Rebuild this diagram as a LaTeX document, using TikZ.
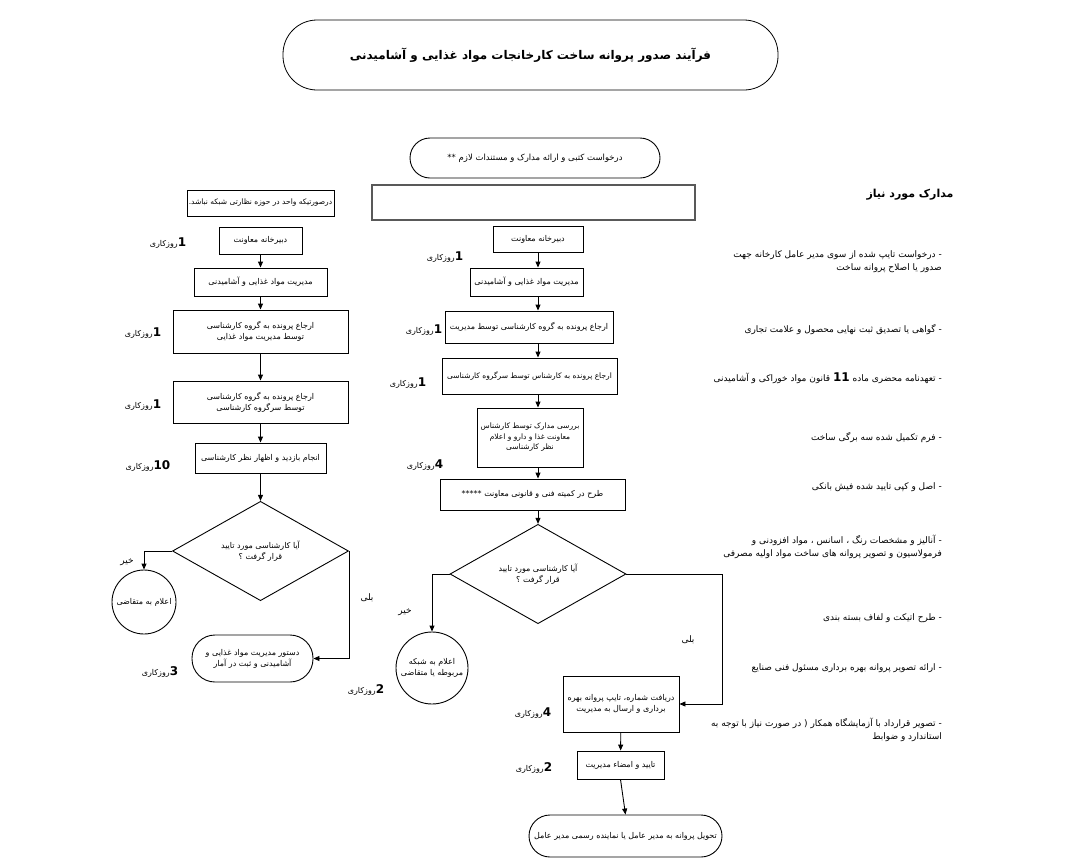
\documentclass[tikz,border=0pt]{standalone}
\usepackage{fontspec}
\newfontfamily\arabicfont[Script=Arabic]{DejaVu Sans}
\usetikzlibrary{arrows.meta,shapes.geometric,positioning}
\TeXXeTstate=1
\newcommand{\fatext}[1]{{\arabicfont\beginR #1\endR}}
\newcommand{\dnum}[1]{{\bfseries\fontsize{12}{12}\selectfont #1}}
\newcommand{\boxfont}{\arabicfont\fontsize{8}{11}\selectfont}
\newcommand{\smallboxfont}{\arabicfont\fontsize{7.5}{10.5}\selectfont}
\newcommand{\listfont}{\arabicfont\fontsize{9}{13}\selectfont}
\newcommand{\titlefont}{\arabicfont\bfseries\fontsize{12}{14}\selectfont}
\tikzset{
  box/.style={draw, line width=0.9pt, inner sep=2pt, align=center, font=\boxfont},
  pill/.style={box, rounded corners=#1},
  ask/.style={box, diamond, inner sep=0pt, minimum width=176pt, minimum height=82pt},
  roundbox/.style={box, circle, inner sep=0pt},
  dayl/.style={font=\boxfont, inner sep=1pt},
  yesno/.style={font=\arabicfont\fontsize{9}{9}\selectfont, inner sep=1pt},
  lst/.style={font=\listfont, align=right, inner sep=1pt, anchor=east},
  arr/.style={line width=0.9pt, -{Triangle[length=6pt,width=5pt]}},
}
\begin{document}
\begin{tikzpicture}[x=1pt,y=-1pt]
\useasboundingbox (0,0) rectangle (1074,860);

% title and request
\node[pill=34pt, line width=0.8pt, minimum width=495pt, minimum height=70pt, font=\titlefont] (title) at (530.5,55)
  {\fatext{فرآیند صدور پروانه ساخت کارخانجات مواد غذایی و آشامیدنی}};
\node[pill=20pt, minimum width=250pt, minimum height=40pt, font=\arabicfont\fontsize{8.5}{11}\selectfont] (req) at (535,158)
  {\fatext{درخواست کتبی و ارائه مدارک و مستندات لازم **}};
\node[box, draw=black!65, line width=1.2pt, minimum width=323pt, minimum height=35pt] (blank) at (533.5,202.5) {};

% left column
\node[box, font=\smallboxfont, inner sep=1pt, minimum width=147pt, minimum height=26pt] (lCond) at (260.5,203) {\fatext{درصورتیکه واحد در حوزه نظارتی شبکه نباشد.}};
\node[box, minimum width=83pt, minimum height=27pt] (lDab) at (260.5,240.5) {\fatext{دبیرخانه معاونت}};
\node[box, minimum width=133pt, minimum height=28pt] (lMod) at (260.5,282) {\fatext{مدیریت مواد غذایی و آشامیدنی}};
\node[box, minimum width=175pt, minimum height=43pt] (lErj1) at (260.5,331.5) {\fatext{ارجاع پرونده به گروه کارشناسی}\\\fatext{توسط مدیریت مواد غذایی}};
\node[box, minimum width=175pt, minimum height=42pt] (lErj2) at (260.5,402) {\fatext{ارجاع پرونده به گروه کارشناسی}\\\fatext{توسط سرگروه کارشناسی}};
\node[box, minimum width=131pt, minimum height=30pt] (lBaz) at (260.5,458) {\fatext{انجام بازدید و اظهار نظر کارشناسی}};
\node[ask] (lDia) at (260.5,551) {\fatext{آیا کارشناسی مورد تایید}\\\fatext{قرار گرفت ؟}};
\node[roundbox, minimum size=64pt] (lCirc) at (144,602) {\fatext{اعلام به متقاضی}};
\node[pill=23pt, minimum width=121pt, minimum height=47pt] (lEnd) at (252.5,658.5) {\fatext{دستور مدیریت مواد غذایی و}\\\fatext{آشامیدنی و ثبت در آمار}};

\node[dayl] (lD1) at (168,243) {\fatext{\dnum{1}روزکاری}};
\node[dayl] (lD2) at (143,333) {\fatext{\dnum{1}روزکاری}};
\node[dayl] (lD3) at (143,405) {\fatext{\dnum{1}روزکاری}};
\node[dayl] (lD4) at (148,466) {\fatext{\dnum{10}روزکاری}};
\node[dayl] (lD5) at (160,672) {\fatext{\dnum{3}روزکاری}};
\node[yesno] (lNo) at (127,562) {\fatext{خیر}};
\node[yesno] (lYes) at (367,598) {\fatext{بلی}};

\draw[arr] (lDab) -- (lMod);
\draw[arr] (lMod) -- (lErj1);
\draw[arr] (lErj1) -- (lErj2);
\draw[arr] (lErj2) -- (lBaz);
\draw[arr] (lBaz) -- (lDia);
\draw[arr] (lDia.west) -| (lCirc.north);
\draw[arr] (lDia.east) |- (lEnd.east);

% middle column
\node[box, minimum width=90pt, minimum height=26pt] (mDab) at (538,239) {\fatext{دبیرخانه معاونت}};
\node[box, minimum width=113pt, minimum height=28pt] (mMod) at (526.5,282) {\fatext{مدیریت مواد غذایی و آشامیدنی}};
\node[box, minimum width=168pt, minimum height=32pt] (mErj1) at (529,327) {\fatext{ارجاع پرونده به گروه کارشناسی توسط مدیریت}};
\node[box, font=\smallboxfont, inner sep=1pt, minimum width=175pt, minimum height=36pt] (mErj2) at (529.5,376) {\fatext{ارجاع پرونده به کارشناس توسط سرگروه کارشناسی}};
\node[box, font=\smallboxfont, minimum width=106pt, minimum height=59pt] (mBar) at (530,437.5) {\fatext{بررسی مدارک توسط کارشناس}\\\fatext{معاونت غذا و دارو و اعلام}\\\fatext{نظر کارشناسی}};
\node[box, minimum width=185pt, minimum height=31pt] (mTarh) at (532.5,494.5) {\fatext{طرح در کمیته فنی و قانونی معاونت *****}};
\node[ask] (mDia) at (538,574) {\fatext{آیا کارشناسی مورد تایید}\\\fatext{قرار گرفت ؟}};
\node[roundbox, minimum size=72pt] (mCirc) at (432,668) {\fatext{اعلام به شبکه}\\\fatext{مربوطه یا متقاضی}};
\node[box, minimum width=116pt, minimum height=56pt] (mRec) at (621,704) {\fatext{دریافت شماره، تایپ پروانه بهره}\\\fatext{برداری و ارسال به مدیریت}};
\node[box, minimum width=87pt, minimum height=28pt] (mTay) at (620.5,765) {\fatext{تایید و امضاء مدیریت}};
\node[pill=21pt, minimum width=193pt, minimum height=42pt] (mEnd) at (625.5,836) {\fatext{تحویل پروانه به مدیر عامل یا نماینده رسمی مدیر عامل}};
\coordinate (mYes) at (722,574);

\node[dayl] (mD1) at (445,257) {\fatext{\dnum{1}روزکاری}};
\node[dayl] (mD2) at (424,330) {\fatext{\dnum{1}روزکاری}};
\node[dayl] (mD3) at (408,383) {\fatext{\dnum{1}روزکاری}};
\node[dayl] (mD4) at (425,465) {\fatext{\dnum{4}روزکاری}};
\node[dayl] (mD5) at (366,690) {\fatext{\dnum{2}روزکاری}};
\node[dayl] (mD6) at (533,713) {\fatext{\dnum{4}روزکاری}};
\node[dayl] (mD7) at (534,768) {\fatext{\dnum{2}روزکاری}};
\node[yesno] (mNo) at (405,612) {\fatext{خیر}};
\node[yesno] (mYesL) at (688,640) {\fatext{بلی}};

\draw[arr] (mDab.south) -- (mMod.north -| mDab);
\draw[arr] (mMod.south -| mDab) -- (mErj1.north -| mDab);
\draw[arr] (mErj1.south -| mDab) -- (mErj2.north -| mDab);
\draw[arr] (mErj2.south -| mDab) -- (mBar.north -| mDab);
\draw[arr] (mBar.south -| mDab) -- (mTarh.north -| mDab);
\draw[arr] (mTarh.south -| mDia) -- (mDia.north);
\draw[arr] (mDia.west) -| (mCirc.north);
\draw[arr] (mDia.east) -- (mYes) |- (mRec.east);
\draw[arr] (mRec) -- (mTay);
\draw[arr] (mTay.south) -- (mEnd.north);

% required documents
\node[font=\arabicfont\bfseries\fontsize{11}{13}\selectfont] (docH) at (910,195) {\fatext{مدارک مورد نیاز}};
\node[lst] (doc1) at (943,262) {\fatext{- درخواست تایپ شده از سوی مدیر عامل کارخانه جهت}\\\fatext{صدور یا اصلاح پروانه ساخت}};
\node[lst] (doc2) at (943,330) {\fatext{- گواهی یا تصدیق ثبت نهایی محصول و علامت تجاری}};
\node[lst] (doc3) at (943,378) {\fatext{- تعهدنامه محضری ماده \dnum{11} قانون مواد خوراکی و آشامیدنی}};
\node[lst] (doc4) at (943,438) {\fatext{- فرم تکمیل شده سه برگی ساخت}};
\node[lst] (doc5) at (943,487) {\fatext{- اصل و کپی تایید شده فیش بانکی}};
\node[lst] (doc6) at (943,547) {\fatext{- آنالیز و مشخصات رنگ ، اسانس ، مواد افزودنی و}\\\fatext{فرمولاسیون و تصویر پروانه های ساخت مواد اولیه مصرفی}};
\node[lst] (doc7) at (943,618) {\fatext{- طرح اتیکت و لفاف بسته بندی}};
\node[lst] (doc8) at (943,668) {\fatext{- ارائه تصویر پروانه بهره برداری مسئول فنی صنایع}};
\node[lst] (doc9) at (943,730) {\fatext{- تصویر قرارداد با آزمایشگاه همکار ( در صورت نیاز با توجه به}\\\fatext{استاندارد و ضوابط}};
\end{tikzpicture}
\end{document}
